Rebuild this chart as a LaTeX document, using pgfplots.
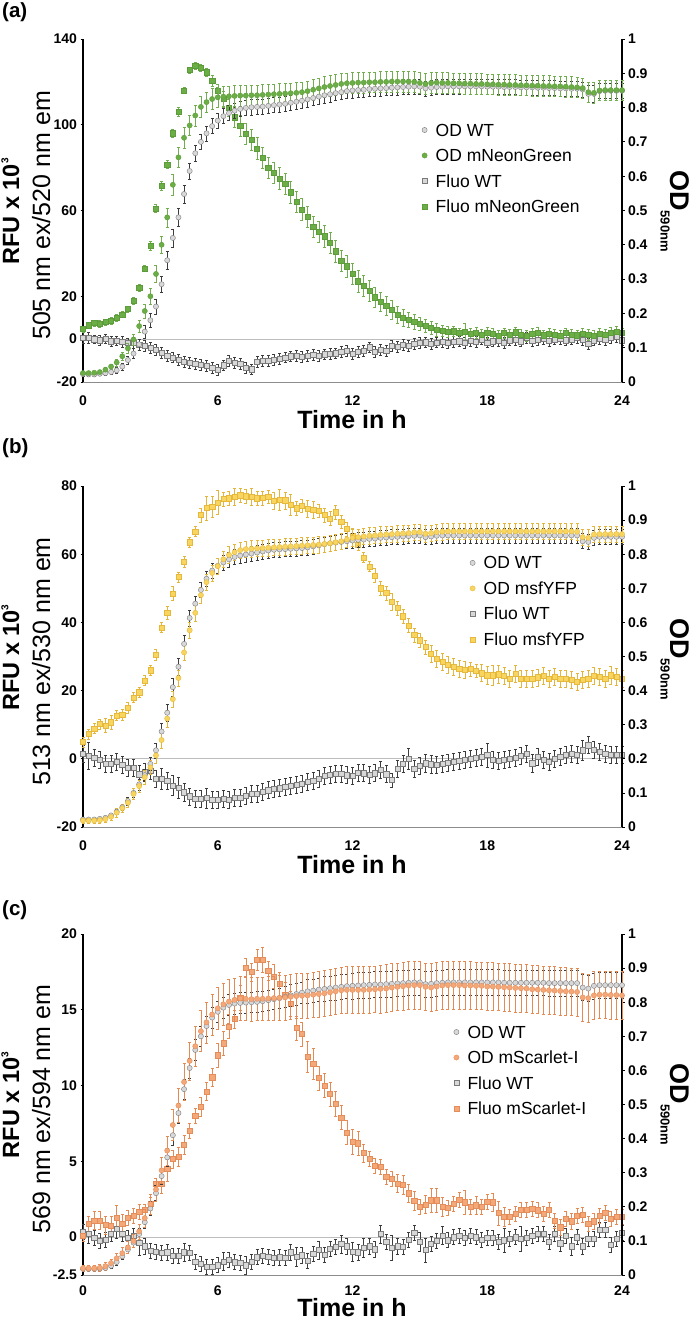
\documentclass[border=0pt]{standalone}
\usepackage{pgfplots}
\pgfplotsset{compat=1.18}
\usepackage{pgfplotstable}
\usepackage{fontspec}
\setmainfont{Liberation Sans}

\definecolor{wtfill}{HTML}{D8D8D8}
\definecolor{wtedge}{HTML}{7A7A7A}
\definecolor{wterr}{HTML}{3C3C3C}
\definecolor{ngfill}{HTML}{6BAE45}
\definecolor{ngedge}{HTML}{5C9C3A}
\definecolor{ngerr}{HTML}{72AE50}
\definecolor{yffill}{HTML}{F8D55E}
\definecolor{yfedge}{HTML}{E6B93C}
\definecolor{yferr}{HTML}{E3B53A}
\definecolor{scfill}{HTML}{F5A877}
\definecolor{scedge}{HTML}{E58D5A}
\definecolor{scerr}{HTML}{E48B55}
\definecolor{axgray}{HTML}{8C8C8C}
\definecolor{zerogray}{HTML}{BDBDBD}

\newcommand\tkf{\fontsize{14}{16}\selectfont\bfseries}
\newcommand\lgf{\fontsize{17.5}{20}\selectfont}
\newcommand\rfuf{\fontsize{23.5}{26}\selectfont\bfseries}
\newcommand\nmf{\fontsize{25}{28}\selectfont}
\newcommand\tmf{\fontsize{25}{28}\selectfont\bfseries}
\newcommand\plf{\fontsize{20.5}{24}\selectfont\bfseries}
\newcommand\rfu{RFU x 10\raisebox{10.5pt}{\fontsize{10}{10}\selectfont\bfseries 3}}
\newcommand\odl{{\fontsize{27}{30}\selectfont\bfseries OD}\raisebox{-9.5pt}{\fontsize{13}{14}\selectfont\bfseries 590nm}}

\tikzset{timelabel/.style={anchor=base, inner sep=0pt, font=\tmf,
  text height=18pt, text depth=0pt}}

\pgfplotsset{
  panelA/.style={at={(83pt,-382pt)}, anchor=south west, height=343pt},
  panelB/.style={at={(83pt,-827pt)}, anchor=south west, height=341pt},
  panelC/.style={at={(83pt,-1275pt)}, anchor=south west, height=341pt},
  common/.style={scale only axis, width=539pt, clip=false, xmin=0, xmax=24,
    tick align=outside, major tick length=2.5pt,
    tick style={black, line width=0.8pt}},
  lefty/.style={common, axis x line*=bottom, axis y line*=left,
    x axis line style={draw=axgray, line width=0.9pt},
    y axis line style={draw=black, line width=1.1pt},
    xtick={0,6,12,18,24}, xticklabels={0,6,12,18,24},
    xtick style={draw=none},
    xticklabel style={font=\tkf, inner sep=0pt, text depth=0pt, yshift=-11.5pt},
    yticklabel style={font=\tkf}},
  righty/.style={common, axis x line=none, axis y line*=right,
    y axis line style={draw=black, line width=1.1pt},
    ymin=0, ymax=1,
    ytick={0,0.1,0.2,0.3,0.4,0.5,0.6,0.7,0.8,0.9,1},
    yticklabels={0,0.1,0.2,0.3,0.4,0.5,0.6,0.7,0.8,0.9,1},
    yticklabel style={font=\tkf},
    legend cell align=left,
    legend style={anchor=north west, draw=none, fill=none, inner sep=0pt,
      outer sep=0pt, font=\lgf, row sep=9.5pt, column sep=0pt,
      nodes={inner sep=0pt, text height=14pt, text depth=2pt},
      /tikz/every odd column/.append style={column sep=8.5pt}},
    legend image code/.code={\draw[##1] plot coordinates {(0pt,0pt)};}},
  zeroline/.style={zerogray, line width=1.1pt, no marks},
  circ/.style={only marks, mark=*, mark size=2.6pt,
    mark options={fill=#1fill, draw=#1edge, line width=0.4pt}},
  sqr/.style={only marks, mark=square*, mark size=2.6pt,
    mark options={fill=#1fill, draw=#1edge, line width=0.45pt}},
  % light-weight error bar: one path with the bar and both caps
  err/.style={error bars/y dir=both, error bars/y explicit,
    error bars/draw error bar/.code 2 args={%
      \draw[#1err, line width=0.5pt] ##1 ++(-1.5pt,0pt) -- ++(3pt,0pt)
        ##1 -- ##2 ++(-1.5pt,0pt) -- ++(3pt,0pt);}},
}

% columns: t, OD WT (a,ae), OD FP (b,be), Fluo WT (c,ce), Fluo FP (d,de)
\pgfplotstableread{
t a ae b be c ce d de
0 .023 .005 .026 .005 0.8 2.5 4.7 1.5
0.25 .022 .005 .026 .005 0.5 2.5 6.5 1.5
0.5 .022 .005 .027 .005 0.0 2.0 7.5 1.5
0.75 .024 .005 .029 .006 -0.5 2.5 7.2 1.5
1 .026 .006 .036 .006 0.2 2.0 8.0 1.5
1.25 .029 .006 .045 .008 -1.0 2.5 8.5 1.5
1.5 .034 .008 .057 .010 -0.8 2.0 10.0 1.5
1.75 .045 .010 .075 .012 -1.2 2.5 11.5 1.5
2 .064 .012 .098 .014 -1.5 2.0 14.0 1.5
2.25 .083 .014 .124 .016 -1.6 2.5 18.0 1.5
2.5 .110 .016 .163 .018 -2.5 2.5 24.0 1.5
2.75 .147 .018 .207 .020 -3.0 2.5 33.0 1.5
3 .180 .020 .250 .022 -4.0 2.5 43.5 2.0
3.25 .220 .022 .315 .024 -5.0 2.5 61.0 2.0
3.5 .285 .024 .400 .026 -6.5 2.5 71.5 2.0
3.75 .355 .026 .480 .028 -7.8 2.5 81.5 2.0
4 .420 .026 .575 .030 -8.5 2.5 96.0 2.0
4.25 .480 .026 .655 .030 -9.5 2.5 106.0 2.0
4.5 .548 .026 .712 .030 -10.5 2.5 116.0 1.5
4.75 .615 .024 .748 .030 -11.0 2.5 125.5 1.5
5 .667 .022 .777 .030 -11.6 2.5 127.5 1.5
5.25 .700 .022 .802 .030 -11.8 2.5 126.5 1.5
5.5 .725 .022 .816 .030 -12.4 2.5 124.5 2.0
5.75 .746 .022 .825 .030 -13.5 2.5 120.5 2.5
6 .762 .022 .830 .030 -14.3 2.5 116.0 3.0
6.25 .775 .022 .832 .030 -12.2 2.5 112.0 3.5
6.5 .784 .022 .833 .030 -10.0 2.5 108.0 4.0
6.75 .791 .022 .834 .030 -11.0 2.5 103.5 4.5
7 .796 .022 .835 .030 -11.6 2.5 99.5 5.0
7.25 .799 .022 .835 .030 -13.5 2.5 95.8 5.0
7.5 .801 .022 .836 .030 -14.0 2.5 93.0 5.0
7.75 .802 .022 .836 .030 -10.5 2.5 89.0 5.0
8 .803 .022 .837 .030 -10.2 2.5 84.5 5.0
8.25 .805 .022 .838 .030 -10.0 2.5 80.0 5.0
8.5 .807 .022 .839 .030 -9.5 2.5 77.5 5.0
8.75 .809 .022 .840 .030 -9.0 2.5 75.0 5.0
9 .811 .022 .841 .030 -8.5 2.5 72.5 5.0
9.25 .814 .022 .842 .030 -8.0 2.5 68.5 5.0
9.5 .817 .022 .843 .030 -7.8 2.5 64.0 5.0
9.75 .820 .022 .845 .030 -8.3 2.5 60.5 5.0
10 .824 .022 .848 .030 -7.6 2.5 57.0 5.0
10.25 .828 .022 .852 .030 -7.4 2.5 52.5 5.0
10.5 .832 .022 .856 .030 -7.8 2.5 50.0 5.0
10.75 .836 .022 .860 .030 -7.0 2.5 48.0 5.0
11 .839 .022 .863 .030 -6.8 2.5 45.0 5.0
11.25 .842 .022 .866 .030 -6.6 2.5 41.0 5.0
11.5 .845 .022 .869 .030 -6.0 2.5 36.5 5.0
11.75 .848 .022 .871 .030 -5.4 2.5 34.0 5.0
12 .850 .022 .872 .030 -6.7 2.5 30.5 5.0
12.25 .851 .022 .873 .030 -6.0 2.5 27.0 5.0
12.5 .852 .022 .873 .030 -5.5 2.5 25.0 5.0
12.75 .854 .022 .874 .030 -3.8 2.5 22.5 5.0
13 .855 .022 .874 .030 -6.0 2.5 19.5 4.5
13.25 .856 .022 .875 .030 -5.0 2.5 17.5 4.5
13.5 .857 .022 .875 .030 -5.5 2.5 15.5 4.5
13.75 .858 .022 .876 .030 -3.0 2.5 13.8 4.5
14 .859 .022 .876 .030 -3.5 2.5 11.5 4.0
14.25 .860 .022 .876 .030 -2.5 2.5 10.0 4.0
14.5 .861 .022 .876 .030 -3.0 2.5 9.0 3.5
14.75 .862 .022 .875 .030 -2.0 2.5 8.0 3.5
15 .861 .022 .872 .030 -1.8 2.5 7.0 3.0
15.25 .856 .022 .869 .030 -1.4 2.5 6.3 3.0
15.5 .858 .022 .872 .030 -2.0 2.5 5.5 3.0
15.75 .860 .022 .873 .030 -1.5 2.5 4.5 3.0
16 .861 .022 .872 .030 -1.2 2.5 4.0 2.5
16.25 .862 .022 .872 .030 -1.8 2.5 3.5 2.5
16.5 .862 .022 .871 .030 -1.3 2.5 3.7 2.5
16.75 .862 .022 .871 .030 -1.0 2.5 2.8 2.5
17 .862 .022 .870 .030 -1.6 2.5 3.5 4.0
17.25 .862 .022 .870 .030 -0.8 2.5 2.5 2.5
17.5 .862 .022 .869 .030 -1.2 2.5 3.0 2.5
17.75 .862 .022 .869 .030 0.0 2.5 2.2 2.5
18 .861 .022 .868 .030 -1.5 2.5 3.0 2.5
18.25 .861 .022 .868 .030 -1.0 2.5 2.5 2.5
18.5 .861 .022 .867 .030 -0.7 2.5 1.5 2.5
18.75 .860 .022 .867 .030 -1.8 2.5 2.8 2.5
19 .860 .022 .866 .030 -0.5 2.5 2.0 2.5
19.25 .860 .022 .866 .030 -0.3 2.5 3.2 2.5
19.5 .859 .022 .865 .030 -1.0 2.5 2.2 2.5
19.75 .859 .022 .865 .030 0.5 2.5 1.5 2.5
20 .859 .022 .864 .030 -0.6 2.5 2.6 2.5
20.25 .858 .022 .864 .030 -0.2 2.5 3.0 2.5
20.5 .858 .022 .863 .030 0.3 2.5 1.8 2.5
20.75 .857 .022 .863 .030 -0.8 2.5 2.5 2.5
21 .857 .022 .862 .030 -0.1 2.5 2.0 2.5
21.25 .856 .022 .862 .030 0.2 2.5 1.5 2.5
21.5 .856 .022 .861 .030 -0.5 2.5 2.8 2.5
21.75 .855 .022 .860 .030 0.0 2.5 2.0 2.5
22 .855 .022 .859 .030 0.5 2.5 1.8 2.5
22.25 .853 .022 .857 .030 -0.3 2.5 2.4 2.5
22.5 .840 .025 .845 .030 -2.0 2.5 2.0 2.5
22.75 .840 .025 .843 .030 -0.5 2.5 1.6 2.5
23 .848 .022 .850 .030 0.3 2.5 2.5 2.5
23.25 .849 .022 .851 .030 -0.4 2.5 2.2 2.5
23.5 .849 .022 .851 .030 0.6 2.5 3.0 2.5
23.75 .849 .022 .851 .030 1.0 2.5 3.5 2.5
24 .849 .022 .851 .030 -0.5 2.5 2.8 2.5
}\tabA

\pgfplotstableread{
t a ae b be c ce d de
0 .022 .005 .019 .008 1.5 2.5 4.9 1.5
0.25 .022 .005 .019 .008 1.0 4.0 7.3 1.5
0.5 .022 .005 .019 .008 0.4 2.5 8.9 1.5
0.75 .024 .005 .020 .008 -0.3 2.5 10.2 1.5
1 .027 .006 .023 .010 -1.5 2.5 9.8 2.0
1.25 .034 .006 .030 .010 -1.5 2.5 10.7 2.0
1.5 .045 .008 .042 .012 -0.8 2.5 12.7 1.5
1.75 .058 .010 .055 .012 -1.8 2.5 12.9 1.5
2 .076 .012 .071 .014 -2.5 2.5 15.0 1.5
2.25 .100 .014 .097 .016 -2.6 2.5 18.0 1.5
2.5 .125 .016 .120 .018 -4.5 2.5 19.5 1.5
2.75 .152 .018 .146 .020 -3.9 2.5 23.0 1.5
3 .185 .020 .175 .020 -3.5 2.5 26.0 1.5
3.25 .225 .022 .210 .022 -5.9 2.5 30.5 1.5
3.5 .280 .024 .255 .024 -5.9 3.0 38.5 1.5
3.75 .335 .026 .318 .024 -6.4 2.5 42.8 2.0
4 .410 .026 .375 .024 -7.8 3.0 48.5 2.0
4.25 .470 .026 .437 .024 -8.5 3.0 53.3 1.5
4.5 .537 .026 .512 .024 -9.8 2.5 57.8 1.5
4.75 .613 .024 .577 .024 -11.0 2.5 63.5 1.5
5 .655 .022 .628 .024 -11.6 2.5 66.7 1.5
5.25 .695 .022 .680 .024 -11.6 2.5 71.5 2.0
5.5 .728 .022 .718 .024 -11.5 3.0 73.6 3.5
5.75 .752 .022 .745 .024 -12.0 2.5 73.9 3.0
6 .766 .022 .765 .024 -12.1 2.5 75.2 3.5
6.25 .776 .022 .785 .024 -11.6 2.5 76.2 2.0
6.5 .785 .022 .798 .024 -12.0 2.5 76.4 2.0
6.75 .792 .022 .806 .024 -11.3 2.5 76.8 2.5
7 .796 .022 .812 .024 -11.3 2.5 77.3 2.0
7.25 .799 .022 .815 .024 -10.8 2.5 77.0 2.0
7.5 .802 .022 .816 .024 -10.3 2.5 76.9 2.5
7.75 .805 .022 .817 .024 -10.3 2.5 76.4 2.0
8 .808 .022 .818 .024 -9.7 2.5 76.5 2.0
8.25 .811 .022 .819 .024 -9.2 2.5 76.9 2.0
8.5 .813 .022 .820 .024 -8.8 2.5 75.6 2.5
8.75 .814 .022 .821 .024 -8.6 2.5 76.0 3.0
9 .815 .022 .822 .024 -8.3 2.5 75.8 2.5
9.25 .816 .022 .823 .024 -8.0 2.5 74.5 3.0
9.5 .817 .022 .824 .024 -7.7 2.5 73.5 2.0
9.75 .818 .022 .825 .024 -7.2 2.5 74.2 2.0
10 .820 .022 .826 .024 -6.8 2.5 73.4 2.5
10.25 .823 .022 .827 .024 -6.5 2.5 73.1 2.5
10.5 .826 .022 .828 .024 -5.8 2.5 72.7 2.0
10.75 .829 .022 .830 .024 -5.0 2.5 71.5 2.0
11 .832 .022 .832 .024 -4.6 2.5 70.5 2.0
11.25 .834 .022 .835 .024 -4.4 2.5 72.3 2.0
11.5 .836 .022 .838 .024 -4.3 2.5 69.5 2.0
11.75 .838 .022 .843 .024 -4.8 2.5 67.4 2.0
12 .840 .022 .848 .024 -5.0 2.5 65.5 2.0
12.25 .842 .022 .850 .024 -4.1 2.5 62.8 1.5
12.5 .843 .022 .852 .024 -4.2 2.5 59.0 1.5
12.75 .845 .022 .854 .024 -4.6 2.5 56.4 1.5
13 .846 .022 .855 .024 -4.2 2.5 53.8 2.0
13.25 .848 .022 .857 .024 -3.3 2.5 50.0 2.0
13.5 .849 .022 .858 .024 -4.5 2.5 48.6 2.0
13.75 .850 .022 .859 .024 -6.2 2.0 46.0 2.5
14 .851 .022 .860 .024 -2.8 2.5 44.2 2.0
14.25 .852 .022 .861 .024 -1.5 2.5 41.8 2.0
14.5 .853 .022 .862 .024 0.0 3.0 39.1 2.0
14.75 .854 .022 .864 .024 -2.8 2.5 36.3 2.0
15 .855 .022 .865 .024 -2.0 2.5 34.8 2.0
15.25 .850 .022 .860 .024 -1.3 2.5 32.8 2.0
15.5 .852 .022 .862 .024 -1.6 2.5 30.8 2.5
15.75 .854 .022 .865 .024 -1.7 2.5 29.4 2.5
16 .855 .022 .866 .024 -1.4 2.5 28.5 2.5
16.25 .855 .022 .867 .024 -1.1 2.5 27.5 2.5
16.5 .855 .022 .867 .024 -0.9 2.5 27.0 2.5
16.75 .855 .022 .867 .024 -0.5 2.5 26.3 2.5
17 .855 .022 .867 .024 -0.3 2.5 26.2 2.5
17.25 .855 .022 .867 .024 0.0 2.5 26.3 2.0
17.5 .855 .022 .867 .024 0.2 2.5 25.8 2.0
17.75 .855 .022 .867 .024 0.6 2.5 25.1 2.5
18 .855 .022 .867 .024 1.1 3.5 24.5 2.5
18.25 .855 .022 .867 .024 -0.2 2.5 24.5 3.0
18.5 .855 .022 .867 .024 -0.6 2.5 24.8 2.5
18.75 .855 .022 .867 .024 -0.3 2.5 24.4 2.5
19 .855 .022 .867 .024 0.0 2.5 23.6 2.5
19.25 .855 .022 .867 .024 0.2 2.5 24.9 2.5
19.5 .855 .022 .867 .024 0.9 2.5 23.4 2.5
19.75 .855 .022 .867 .024 1.6 2.5 23.4 2.5
20 .855 .022 .867 .024 -1.3 2.5 23.5 2.5
20.25 .855 .022 .867 .024 0.5 2.5 23.9 2.5
20.5 .855 .022 .867 .024 -0.2 2.5 24.4 2.5
20.75 .855 .022 .867 .024 -0.8 2.5 23.6 2.5
21 .855 .022 .867 .024 0.0 2.5 24.0 2.5
21.25 .855 .022 .867 .024 0.6 2.5 23.6 2.5
21.5 .855 .022 .867 .024 1.2 2.5 23.5 2.5
21.75 .855 .022 .867 .024 1.6 2.5 23.3 2.5
22 .855 .022 .866 .024 1.2 2.5 22.6 2.5
22.25 .838 .022 .850 .024 2.5 3.0 23.3 2.5
22.5 .836 .022 .848 .024 4.0 2.5 23.6 2.5
22.75 .848 .022 .858 .024 2.6 2.5 24.3 2.5
23 .851 .022 .859 .024 2.0 2.5 24.0 2.5
23.25 .851 .022 .859 .024 1.6 2.5 23.5 2.5
23.5 .851 .022 .859 .024 1.3 2.5 24.5 2.5
23.75 .851 .022 .859 .024 1.1 2.5 24.0 2.5
24 .851 .022 .859 .024 1.1 2.5 23.5 2.5
}\tabB

\pgfplotstableread{
t a ae b be c ce d de
0 .018 .005 .020 .010 0.33 0.5 0.10 0.4
0.25 .018 .005 .020 .010 0.20 0.6 0.90 0.5
0.5 .018 .005 .020 .010 -0.05 0.5 1.10 0.6
0.75 .019 .005 .021 .010 -0.22 0.5 1.10 0.6
1 .021 .006 .026 .012 -0.15 0.5 0.80 0.6
1.25 .027 .006 .035 .012 0.25 0.5 0.77 0.6
1.5 .038 .008 .049 .014 0.55 0.6 1.30 0.8
1.75 .055 .010 .064 .016 0.25 0.5 0.90 0.6
2 .075 .012 .081 .018 -0.05 0.5 1.30 0.5
2.25 .095 .014 .100 .020 0.10 0.5 1.40 0.5
2.5 .120 .016 .128 .022 -0.38 0.8 1.70 0.5
2.75 .155 .018 .167 .026 -0.60 0.5 1.80 0.4
3 .195 .020 .208 .030 -0.88 0.5 2.20 0.4
3.25 .240 .022 .251 .034 -0.95 0.5 3.50 0.4
3.5 .290 .024 .307 .038 -1.05 0.5 3.50 0.6
3.75 .345 .026 .365 .042 -1.00 0.5 4.50 0.8
4 .410 .028 .440 .046 -1.25 0.5 5.16 0.6
4.25 .475 .030 .497 .050 -1.22 0.5 5.30 0.6
4.5 .545 .030 .566 .054 -1.00 0.6 6.10 0.6
4.75 .607 .030 .628 .056 -1.05 0.5 7.00 0.5
5 .660 .030 .671 .058 -1.60 0.5 8.00 0.5
5.25 .700 .030 .715 .060 -1.78 0.5 8.60 0.6
5.5 .730 .030 .741 .060 -1.93 0.5 9.60 0.6
5.75 .755 .030 .764 .060 -1.97 0.5 10.55 0.6
6 .772 .030 .782 .062 -1.85 0.5 12.00 0.8
6.25 .784 .030 .794 .062 -1.60 0.6 12.80 0.8
6.5 .792 .030 .802 .064 -1.47 0.5 13.90 0.8
6.75 .796 .030 .807 .064 -1.65 0.5 14.40 0.6
7 .798 .030 .811 .064 -1.70 0.5 15.80 0.8
7.25 .799 .030 .810 .064 -1.86 0.6 17.80 0.6
7.5 .800 .030 .809 .064 -1.60 0.5 17.50 0.6
7.75 .801 .030 .810 .064 -1.32 0.5 18.30 0.7
8 .803 .030 .810 .064 -1.23 0.5 18.30 0.8
8.25 .806 .030 .811 .064 -1.30 0.5 17.58 0.6
8.5 .809 .030 .812 .064 -1.35 0.5 17.20 0.8
8.75 .812 .030 .813 .066 -1.33 0.5 16.70 0.8
9 .816 .030 .814 .066 -1.35 0.5 16.00 0.8
9.25 .820 .032 .816 .066 -1.00 0.5 15.40 0.8
9.5 .824 .032 .818 .066 -1.30 0.6 13.80 0.8
9.75 .828 .032 .819 .066 -1.20 0.5 13.40 0.8
10 .832 .034 .820 .066 -1.55 0.5 11.90 1.0
10.25 .834 .034 .822 .066 -1.10 0.5 11.43 1.0
10.5 .837 .034 .824 .068 -0.85 0.6 10.50 0.8
10.75 .839 .036 .826 .068 -1.15 0.5 10.00 0.8
11 .841 .036 .829 .068 -0.77 0.5 9.45 0.8
11.25 .843 .036 .832 .068 -0.65 0.5 8.80 0.8
11.5 .845 .036 .835 .068 -0.45 0.6 7.90 0.8
11.75 .847 .036 .836 .068 -0.60 0.5 6.90 0.8
12 .848 .038 .836 .068 -0.96 0.6 6.30 0.8
12.25 .849 .038 .836 .068 -1.00 0.5 6.20 0.8
12.5 .850 .038 .836 .068 -0.70 0.6 5.55 0.6
12.75 .851 .038 .837 .068 -0.60 0.5 5.15 0.5
13 .852 .038 .838 .068 -0.80 0.5 4.70 0.5
13.25 .852 .038 .839 .070 0.20 0.6 4.63 0.5
13.5 .853 .038 .840 .070 -0.30 0.5 4.00 0.5
13.75 .854 .038 .843 .070 -0.70 0.8 3.85 0.5
14 .855 .038 .845 .070 -0.60 0.5 3.54 0.6
14.25 .856 .038 .847 .070 -0.65 0.5 3.45 0.6
14.5 .857 .038 .849 .070 -0.15 0.5 2.90 0.6
14.75 .858 .038 .850 .070 0.30 0.5 2.40 0.6
15 .858 .038 .850 .070 -0.30 0.6 2.00 0.5
15.25 .853 .038 .845 .070 -0.85 0.8 2.15 0.6
15.5 .854 .038 .843 .070 -0.45 0.5 2.44 0.8
15.75 .856 .038 .846 .070 -0.25 0.5 2.44 0.8
16 .857 .038 .849 .070 0.10 0.6 2.00 0.6
16.25 .858 .038 .850 .070 -0.20 0.5 1.92 0.5
16.5 .858 .038 .850 .070 0.00 0.5 2.20 0.5
16.75 .858 .038 .850 .070 0.10 0.5 2.45 0.5
17 .858 .038 .849 .070 -0.05 0.5 2.30 0.8
17.25 .858 .038 .849 .070 0.10 0.5 2.00 0.5
17.5 .858 .038 .848 .070 0.00 0.5 2.10 0.6
17.75 .858 .038 .848 .070 -0.15 0.5 2.00 0.5
18 .858 .038 .846 .070 -0.05 0.5 2.33 0.5
18.25 .858 .038 .846 .070 -0.05 0.5 2.30 0.6
18.5 .858 .038 .845 .070 -0.30 0.5 1.60 0.8
18.75 .857 .038 .844 .070 -0.20 0.8 1.35 0.6
19 .857 .038 .843 .070 -0.10 0.5 1.35 0.5
19.25 .857 .038 .842 .070 0.00 0.5 1.56 0.5
19.5 .857 .038 .841 .070 -0.10 0.8 1.80 0.5
19.75 .857 .038 .840 .070 -0.05 0.5 1.80 0.5
20 .857 .038 .838 .070 0.10 0.5 1.89 0.5
20.25 .857 .038 .837 .070 0.20 0.5 1.78 0.5
20.5 .857 .038 .836 .070 0.25 0.5 1.55 0.5
20.75 .856 .038 .835 .070 -0.30 0.5 1.80 0.5
21 .856 .038 .834 .070 0.20 0.5 1.10 0.5
21.25 .856 .038 .833 .070 -0.40 0.5 0.65 0.5
21.5 .856 .038 .832 .070 0.10 0.5 1.20 0.5
21.75 .856 .038 .831 .070 -0.60 0.6 1.05 0.5
22 .856 .038 .830 .070 0.00 0.5 1.40 0.5
22.25 .843 .038 .814 .070 -0.60 0.5 1.50 0.5
22.5 .840 .038 .812 .070 -0.10 0.5 0.90 0.5
22.75 .848 .038 .820 .070 -0.10 0.5 1.05 0.5
23 .850 .038 .822 .070 0.50 0.5 1.40 0.5
23.25 .850 .038 .822 .070 0.50 0.5 1.60 0.5
23.5 .850 .038 .821 .070 -0.50 0.5 1.20 0.5
23.75 .850 .038 .821 .070 -0.10 0.5 1.35 0.5
24 .850 .038 .820 .070 0.30 0.5 1.35 0.5
}\tabC

\begin{document}
\begin{tikzpicture}
\useasboundingbox (0,0) rectangle (690pt,-1321pt);

% ---------- (a) mNeonGreen ----------
\begin{axis}[lefty, panelA, ymin=-20, ymax=140,
  ytick={-20,0,20,60,100,140}, yticklabels={-20,0,20,60,100,140}]
\addplot[zeroline] coordinates {(0,0) (24,0)};
\addplot[sqr=wt, err=wt] table[x=t, y=c, y error=ce] {\tabA};
\addplot[sqr=ng, err=ng] table[x=t, y=d, y error=de] {\tabA};
\end{axis}
\begin{axis}[righty, panelA, legend style={at={(0.629,0.758)}}]
\addplot[circ=wt, err=wt, forget plot] table[x=t, y=a, y error=ae] {\tabA};
\addplot[circ=ng, err=ng, forget plot] table[x=t, y=b, y error=be] {\tabA};
\addlegendimage{circ=wt}\addlegendentry{OD WT}
\addlegendimage{circ=ng}\addlegendentry{OD mNeonGreen}
\addlegendimage{sqr=wt}\addlegendentry{Fluo WT}
\addlegendimage{sqr=ng}\addlegendentry{Fluo mNeonGreen}
\end{axis}

% ---------- (b) msfYFP ----------
\begin{axis}[lefty, panelB, ymin=-20, ymax=80,
  ytick={-20,0,20,40,60,80}, yticklabels={-20,0,20,40,60,80}]
\addplot[zeroline] coordinates {(0,0) (24,0)};
\addplot[sqr=wt, err=wt] table[x=t, y=c, y error=ce] {\tabB};
\addplot[sqr=yf, err=yf] table[x=t, y=d, y error=de] {\tabB};
\end{axis}
\begin{axis}[righty, panelB, legend style={at={(0.718,0.798)}}]
\addplot[circ=wt, err=wt, forget plot] table[x=t, y=a, y error=ae] {\tabB};
\addplot[circ=yf, err=yf, forget plot] table[x=t, y=b, y error=be] {\tabB};
\addlegendimage{circ=wt}\addlegendentry{OD WT}
\addlegendimage{circ=yf}\addlegendentry{OD msfYFP}
\addlegendimage{sqr=wt}\addlegendentry{Fluo WT}
\addlegendimage{sqr=yf}\addlegendentry{Fluo msfYFP}
\end{axis}

% ---------- (c) mScarlet-I ----------
\begin{axis}[lefty, panelC, ymin=-2.5, ymax=20,
  ytick={-2.5,0,5,10,15,20}, yticklabels={-2.5,0,5,10,15,20},
  xticklabel style={yshift=3pt}]
\addplot[zeroline] coordinates {(0,0) (24,0)};
\addplot[sqr=wt, err=wt] table[x=t, y=c, y error=ce] {\tabC};
\addplot[sqr=sc, err=sc] table[x=t, y=d, y error=de] {\tabC};
\end{axis}
\begin{axis}[righty, panelC, legend style={at={(0.688,0.736)}}]
\addplot[circ=wt, err=wt, forget plot] table[x=t, y=a, y error=ae] {\tabC};
\addplot[circ=sc, err=sc, forget plot] table[x=t, y=b, y error=be] {\tabC};
\addlegendimage{circ=wt}\addlegendentry{OD WT}
\addlegendimage{circ=sc}\addlegendentry{OD mScarlet-I}
\addlegendimage{sqr=wt}\addlegendentry{Fluo WT}
\addlegendimage{sqr=sc}\addlegendentry{Fluo mScarlet-I}
\end{axis}

% ---------- panel letters and axis titles ----------
\node[anchor=base west, inner sep=0pt, font=\plf] at (2pt,-17.5pt) {(a)};
\node[anchor=base west, inner sep=0pt, font=\plf] at (2pt,-453.7pt) {(b)};
\node[anchor=base west, inner sep=0pt, font=\plf] at (2pt,-915.7pt) {(c)};

\node[rotate=90, anchor=base, inner sep=0pt, font=\rfuf] at (19pt,-211.5pt) {\rfu};
\node[rotate=90, anchor=base, inner sep=0pt, font=\nmf] at (50pt,-215.5pt) {505 nm ex/520 nm em};
\node[rotate=-90, anchor=base, inner sep=0pt] at (670pt,-211pt) {\odl};
\node[timelabel] at (352pt,-428pt) {Time in h};

\node[rotate=90, anchor=base, inner sep=0pt, font=\rfuf] at (19pt,-657.5pt) {\rfu};
\node[rotate=90, anchor=base, inner sep=0pt, font=\nmf] at (50pt,-661.5pt) {513 nm ex/530 nm em};
\node[rotate=-90, anchor=base, inner sep=0pt] at (670pt,-659pt) {\odl};
\node[timelabel] at (352pt,-873pt) {Time in h};

\node[rotate=90, anchor=base, inner sep=0pt, font=\rfuf] at (19pt,-1105pt) {\rfu};
\node[rotate=90, anchor=base, inner sep=0pt, font=\nmf] at (50pt,-1109pt) {569 nm ex/594 nm em};
\node[rotate=-90, anchor=base, inner sep=0pt] at (670pt,-1104.5pt) {\odl};
\node[timelabel] at (352pt,-1316pt) {Time in h};
\end{tikzpicture}
\end{document}
